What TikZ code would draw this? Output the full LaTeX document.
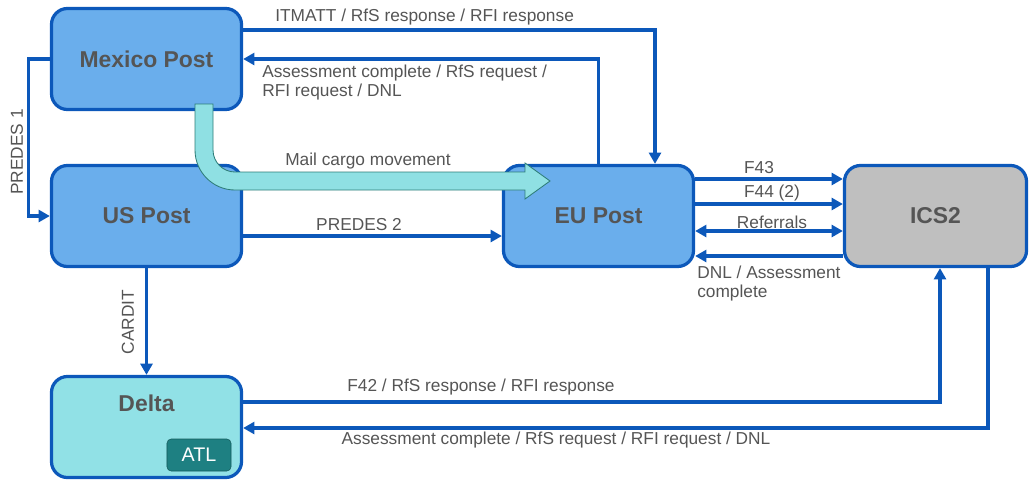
\documentclass[tikz,border=0pt]{standalone}
\usepackage{fontspec}
\setmainfont{Liberation Sans}
\usetikzlibrary{arrows.meta,calc}

\definecolor{postblue}{RGB}{106,174,236}
\definecolor{edgeblue}{RGB}{12,88,186}
\definecolor{deltacyan}{RGB}{145,225,230}
\definecolor{atlteal}{RGB}{30,128,130}
\definecolor{icsgray}{RGB}{191,191,191}
\definecolor{labelgray}{RGB}{85,85,85}
\definecolor{mailfill}{RGB}{143,224,227}
\definecolor{mailedge}{RGB}{46,125,120}

\tikzset{
  party/.style={draw=edgeblue, line width=2.3pt, rounded corners=0.4cm,
    minimum width=4.75cm, minimum height=2.525cm, text=labelgray,
    font=\fontsize{16.3}{19}\selectfont\bfseries},
  flow/.style={draw=edgeblue, line width=2.3pt, -{Triangle[length=8pt,width=8.5pt]}},
  twoway/.style={flow, {Triangle[length=8pt,width=8.5pt]}-{Triangle[length=8pt,width=8.5pt]}},
  lbl/.style={inner sep=0pt, text=labelgray, font=\fontsize{12.3}{13.2}\selectfont},
}

\begin{document}
\begin{tikzpicture}[x=0.025cm,y=-0.025cm]
\useasboundingbox (0,0) rectangle (1029,481);

% the parties
\node[party, fill=postblue] (mexico) at (146.5,59) {Mexico Post};
\node[party, fill=postblue] (us) at (146.5,216) {US Post};
\node[party, fill=postblue] (eu) at (598.5,216) {EU Post};
\node[party, fill=icsgray, minimum width=4.55cm] (ics) at (935.5,216) {ICS2};
\node[party, fill=deltacyan] (delta) at (146.5,427) {};
\node[party, draw=none, fill=none, minimum width=0pt, minimum height=0pt] (deltaname) at ($(delta.center)+(0,-24)$) {Delta};
\node[fill=atlteal, draw=atlteal!70!black, rounded corners=3pt, text=white,
  minimum width=1.6cm, minimum height=0.8cm, font=\fontsize{14}{16}\selectfont] (atl) at (199,455) {ATL};

% Mexico Post <-> US Post / EU Post
\draw[flow] (mexico.west) -- ++(-21,0) |- (us.west);
\node[lbl, rotate=90] at (17,152) {PREDES 1};
\draw[flow] ($(mexico.east)+(0,-29)$) -| ($(eu.north)+(56.5,0)$);
\node[lbl, anchor=west] at (275,17) {ITMATT / RfS response / RFI response};
\draw[flow] (eu.north) |- (mexico.east);
\node[lbl, anchor=north west, align=left] at (262,65) {Assessment complete / RfS request /\\RFI request / DNL};

% US Post
\draw[flow] ($(us.east)+(0,20)$) -- ($(eu.west)+(0,20)$);
\node[lbl] at (359,225) {PREDES 2};
\draw[flow] (us.south) -- (delta.north);
\node[lbl, rotate=90] at (128,322) {CARDIT};

% EU Post <-> ICS2
\draw[flow] ($(eu.east)+(0,-37)$) -- ($(ics.west)+(0,-37)$);
\node[lbl] at (759,168) {F43};
\draw[flow] ($(eu.east)+(0,-12)$) -- ($(ics.west)+(0,-12)$);
\node[lbl] at (772,193) {F44 (2)};
\draw[twoway] ($(eu.east)+(0,15)$) -- ($(ics.west)+(0,15)$);
\node[lbl] at (772,222) {Referrals};
\draw[flow] ($(ics.west)+(0,40)$) -- ($(eu.east)+(0,40)$);
\node[lbl, anchor=north west, align=left] at (697,266) {DNL / Assessment\\complete};

% Delta <-> ICS2
\draw[flow] ($(delta.east)+(0,-25)$) -| ($(ics.south)+(4.5,0)$);
\node[lbl] at (481,387) {F42 / RfS response / RFI response};
\draw[flow] ($(ics.south)+(52.5,0)$) |- ($(delta.east)+(0,1)$);
\node[lbl] at (556,440) {Assessment complete / RfS request / RFI request / DNL};

% mail cargo movement
\draw[fill=mailfill, draw=mailedge, line width=0.6pt]
  (195,104) -- (195,150) .. controls (195,172.1) and (212.9,190) .. (235,190)
  -- (525,190) -- (525,199) -- (550,181) -- (525,163) -- (525,172)
  -- (235,172) .. controls (222.86,172) and (213,162.14) .. (213,150) -- (213,104) -- cycle;
\node[lbl] at (368,161) {Mail cargo movement};
\end{tikzpicture}
\end{document}
